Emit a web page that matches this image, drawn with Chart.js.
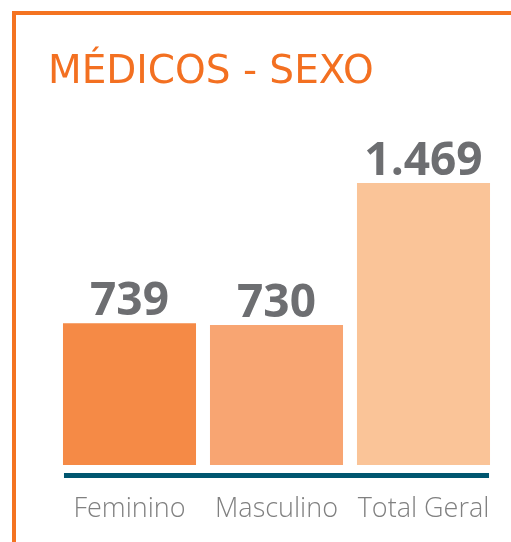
<!DOCTYPE html>
<html lang="pt">
<head>
  <meta charset="UTF-8" />
  <title>Médicos - Sexo</title>
  <script src="https://cdn.jsdelivr.net/npm/chart.js"></script>
  <style>
    html, body {
      margin: 0;
      padding: 0;
      background: #fff;
      overflow: hidden;
    }
    .frame {
      position: absolute;
      left: 12px;
      top: 11px;
      width: 600px;
      height: 600px;
      border-left: 4px solid #f47321;
      border-top: 4px solid #f47321;
    }
    #chart {
      position: absolute;
      left: 0;
      top: 0;
    }
  </style>
</head>
<body>
  <div class="frame"></div>
  <canvas id="chart" width="511" height="542"></canvas>

  <script>
    // Data
    const categories = ["Feminino", "Masculino", "Total Geral"];
    const values = [739, 730, 1469];
    const barColors = ["#f58a46", "#f8a572", "#fac498"];

    // thousands with a dot, like the source ("1.469")
    function fmt(n) {
      return String(n).replace(/\B(?=(\d{3})+(?!\d))/g, ".");
    }

    // value labels above bars + dark baseline under bars
    const barExtras = {
      id: "barExtras",
      afterDatasetsDraw(chart) {
        const ctx = chart.ctx;
        const bars = chart.getDatasetMeta(0).data;
        const y0 = chart.scales.y.getPixelForValue(0);

        ctx.save();
        // baseline
        const left = bars[0].x - bars[0].width / 2 + 1;
        const last = bars[bars.length - 1];
        const right = last.x + last.width / 2 - 1;
        ctx.strokeStyle = "#005670";
        ctx.lineWidth = 5;
        ctx.beginPath();
        ctx.moveTo(left, y0 + 10.5);
        ctx.lineTo(right, y0 + 10.5);
        ctx.stroke();

        // numbers
        ctx.fillStyle = "#6d6e71";
        ctx.font = "bold 46px 'Open Sans', sans-serif";
        ctx.textAlign = "center";
        ctx.textBaseline = "alphabetic";
        bars.forEach((bar, i) => {
          ctx.fillText(fmt(values[i]), bar.x, bar.y - 8);
        });
        ctx.restore();
      }
    };

    new Chart(document.getElementById("chart"), {
      type: "bar",
      data: {
        labels: categories,
        datasets: [{
          data: values,
          backgroundColor: barColors,
          borderWidth: 0,
          categoryPercentage: 1,
          barPercentage: 0.905
        }]
      },
      options: {
        responsive: false,
        animation: false,
        layout: { padding: { left: 48, right: 14, top: 0, bottom: 0 } },
        plugins: {
          legend: { display: false },
          tooltip: { enabled: false },
          title: {
            display: true,
            text: "MÉDICOS - SEXO",
            align: "start",
            color: "#f37021",
            font: { family: "'DejaVu Sans', sans-serif", size: 39, weight: "normal" },
            padding: { top: 49, bottom: 43 }
          }
        },
        scales: {
          x: {
            grid: {
              display: true,
              drawOnChartArea: false,
              drawTicks: true,
              tickLength: 28,
              tickColor: "rgba(0,0,0,0)"
            },
            border: { display: false },
            ticks: {
              color: "#808080",
              padding: 0,
              font: { family: "'Open Sans', sans-serif", size: 27, weight: 300 }
            },
            afterFit(s) { s.height = 77; }
          },
          y: {
            min: 0,
            max: 1700,
            grid: { display: false },
            border: { display: false },
            ticks: { display: false },
            afterFit(s) { s.width = 8; }
          }
        }
      },
      plugins: [barExtras]
    });
  </script>
</body>
</html>
